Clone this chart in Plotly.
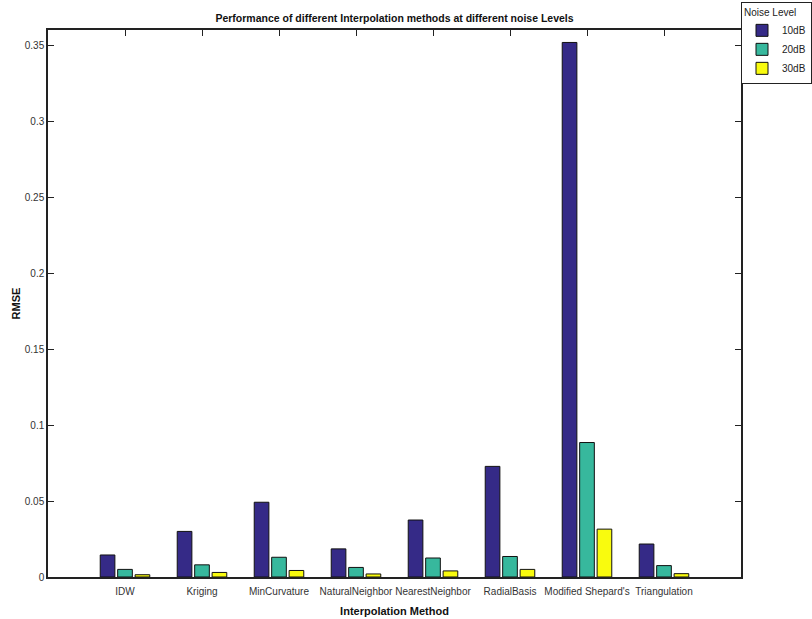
import plotly.graph_objects as go

methods = ["IDW", "Kriging", "MinCurvature", "NaturalNeighbor", "NearestNeighbor",
           "RadialBasis", "Modified Shepard's", "Triangulation"]
series_names = ["10dB", "20dB", "30dB"]
rmse_10db = [0.0145, 0.0300, 0.0492, 0.0185, 0.0375, 0.0728, 0.3518, 0.0217]
rmse_20db = [0.0050, 0.0080, 0.0130, 0.0063, 0.0125, 0.0135, 0.0885, 0.0075]
rmse_30db = [0.0015, 0.0030, 0.0043, 0.0020, 0.0040, 0.0050, 0.0315, 0.0022]
colors = ["#352a87", "#37b89d", "#f9fb0e"]

x_pos = list(range(1, len(methods) + 1))
font_family = "Liberation Sans, Arial, sans-serif"

fig = go.Figure()
for name, vals, c in zip(series_names, [rmse_10db, rmse_20db, rmse_30db], colors):
    fig.add_trace(go.Bar(x=x_pos, y=vals, name=name,
                         marker=dict(color=c, line=dict(color="#111111", width=1))))

fig.update_layout(
    width=812, height=619,
    margin=dict(l=48, r=66, t=30, b=42),
    paper_bgcolor="white", plot_bgcolor="white",
    barmode="group", bargap=0.32, bargroupgap=0.16,
    font=dict(family=font_family, size=10, color="#222222"),
    title=dict(text="<b>Performance of different Interpolation methods at different noise Levels</b>",
               x=0.5, xref="paper", xanchor="center", y=0.971, yanchor="middle",
               font=dict(size=10.5, color="#111111")),
    legend=dict(xref="container", yref="container", x=1.0, y=0.997,
                xanchor="right", yanchor="top",
                bordercolor="#222222", borderwidth=1, bgcolor="white",
                title=dict(text="Noise Level", font=dict(size=10)),
                font=dict(size=10), itemwidth=30, tracegroupgap=0),
    xaxis=dict(range=[0, 9], tickmode="array", tickvals=x_pos, ticktext=methods,
               tickangle=0, automargin=False, ticklabelstandoff=4, layer="below traces",
               showline=True, linecolor="#222222", linewidth=1.5, mirror="ticks",
               ticks="inside", ticklen=6, tickcolor="#222222", showgrid=False, zeroline=False,
               title=dict(text="<b>Interpolation Method</b>", font=dict(size=11, color="#111111"), standoff=12),
               tickfont=dict(size=10, color="#333333")),
    yaxis=dict(range=[0, 0.36], dtick=0.05, tick0=0, automargin=False,
               showline=True, linecolor="#222222", linewidth=1.5, mirror="ticks",
               ticks="inside", ticklen=6, tickcolor="#222222", showgrid=False, zeroline=False,
               title=dict(text="<b>RMSE</b>", font=dict(size=11, color="#111111"), standoff=2),
               tickfont=dict(size=10, color="#333333")),
)

fig.write_html("out.html", config={"displayModeBar": False},
               post_script="document.body.style.margin='0';document.body.style.overflow='hidden';")
